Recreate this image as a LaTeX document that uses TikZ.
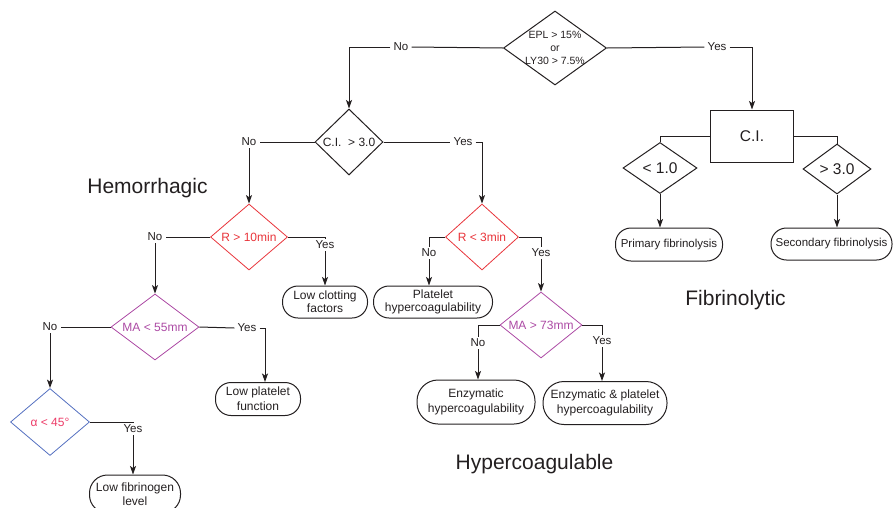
\documentclass[tikz,border=0pt]{standalone}
\usepackage{fontspec}
\setmainfont{Liberation Sans}
\usetikzlibrary{shapes.geometric,arrows.meta}

\definecolor{ink}{RGB}{35,31,32}
\definecolor{teggred}{RGB}{232,52,58}
\definecolor{teggpurple}{RGB}{172,74,164}
\definecolor{teggblue}{RGB}{84,112,192}
\definecolor{teggpink}{RGB}{236,60,104}

\tikzset{
	line/.style={draw=ink, line width=1pt},
	arr/.style={line, -{Stealth[length=8.5pt,width=6pt,inset=2pt]}},
	decision/.style={diamond, draw=ink, line width=1pt, inner sep=0pt},
	cond/.style={font=\fontsize{12}{13}\selectfont, text=ink, inner sep=0pt, align=center},
	answer/.style={font=\fontsize{11.5}{12}\selectfont, text=ink, inner xsep=3pt, inner ysep=2pt},
	outcome/.style={rectangle, draw=ink, line width=1pt, rounded corners=15.5pt,
		minimum height=32pt, inner xsep=0pt, align=center, text=ink,
		font=\fontsize{12}{12.7}\selectfont},
	heading/.style={font=\fontsize{21}{24}\selectfont, text=ink, anchor=base},
}

\begin{document}
\begin{tikzpicture}[x=1pt, y=-1pt]
	\useasboundingbox (0,0) rectangle (893,507);

	% first split
	\node[decision, minimum width=103pt, minimum height=74pt] (epl) at (555,48) {};
	\node[cond, font=\fontsize{10.5}{13}\selectfont] (epltxt) at (epl) {EPL > 15\%\\or\\LY30 > 7.5\%};
	\node[answer] (noA) at (401,47) {No};
	\node[answer] (yesA) at (717,47) {Yes};

	% hemorrhagic / hypercoagulable side
	\node[decision, minimum width=68pt, minimum height=66pt] (ci) at (349,142) {};
	\node[cond] (citxt) at (ci) {C.I.\ \ > 3.0};
	\node[answer] (noB) at (249,142) {No};
	\node[answer] (yesC) at (463,142) {Yes};

	\node[decision, draw=teggred, line width=0.8pt, minimum width=77pt, minimum height=66pt] (r10) at (249,237) {};
	\node[cond, text=teggred] (r10txt) at (r10) {R > 10min};
	\node[answer] (noD) at (155,237) {No};
	\node[answer] (yesD) at (325,245) {Yes};
	\node[outcome, minimum width=85pt] (lowclot) at (325,302) {Low clotting\\factors};

	\node[decision, draw=teggpurple, line width=0.8pt, minimum width=88pt, minimum height=66pt] (ma55) at (155,327) {};
	\node[cond, text=teggpurple] (ma55txt) at (ma55) {MA < 55mm};
	\node[answer] (noF) at (50,327) {No};
	\node[answer] (yesF) at (247,328) {Yes};
	\coordinate (cF) at (265,328);
	\node[outcome, minimum width=85pt, minimum height=33pt, font=\fontsize{12}{15}\selectfont] (lowplat) at (258,399) {Low platelet\\function};

	\node[decision, draw=teggblue, line width=0.8pt, minimum width=79pt, minimum height=67pt] (alpha) at (50,422) {};
	\node[cond, text=teggpink] (alphatxt) at (alpha) {α < 45°};
	\node[answer] (yesG) at (133,429) {Yes};
	\node[outcome, minimum width=91pt, minimum height=38pt, rounded corners=18pt, font=\fontsize{12}{13.5}\selectfont] (lowfib) at (135,494) {Low fibrinogen\\level};

	\node[decision, draw=teggred, line width=0.8pt, minimum width=73pt, minimum height=66pt] (r3) at (482,237) {};
	\node[cond, text=teggred] (r3txt) at (r3) {R < 3min};
	\node[answer] (noE) at (429,253) {No};
	\node[answer] (yesE) at (541,253) {Yes};
	\node[outcome, minimum width=119pt] (plat) at (433,302) {Platelet\\hypercoagulability};

	\node[decision, draw=teggpurple, line width=0.8pt, minimum width=82pt, minimum height=66pt] (ma73) at (541,325) {};
	\node[cond, text=teggpurple] (ma73txt) at (ma73) {MA > 73mm};
	\node[answer] (noH) at (478,343) {No};
	\node[answer] (yesH) at (602,341) {Yes};
	\node[outcome, minimum width=118pt, minimum height=44pt, rounded corners=21pt, font=\fontsize{12}{15}\selectfont] (enzy) at (476,402) {Enzymatic\\hypercoagulability};
	\node[outcome, minimum width=124pt, minimum height=43pt, rounded corners=21pt, font=\fontsize{12}{14.5}\selectfont] (enzplat) at (605,403) {Enzymatic \& platelet\\hypercoagulability};

	% fibrinolytic side
	\node[rectangle, draw=ink, line width=1pt, minimum width=83pt, minimum height=52pt, font=\fontsize{15.5}{17}\selectfont, text=ink] (cibox) at (752,136) {C.I.};
	\node[decision, minimum width=74pt, minimum height=51pt] (lt1) at (660,168) {};
	\node[cond, font=\fontsize{15.5}{17}\selectfont] (lt1txt) at (lt1) {< 1.0};
	\node[decision, minimum width=68pt, minimum height=50pt] (gt3) at (837,169) {};
	\node[cond, font=\fontsize{15.5}{17}\selectfont] (gt3txt) at (gt3) {> 3.0};
	\node[outcome, minimum width=107pt, minimum height=33pt, font=\fontsize{11.5}{12}\selectfont] (primary) at (669,244.5) {Primary fibrinolysis};
	\node[outcome, minimum width=121pt, font=\fontsize{11.5}{12}\selectfont] (secondary) at (831.5,244) {Secondary fibrinolysis};

	% group titles
	\node[heading] (hemo) at (147.5,193) {Hemorrhagic};
	\node[heading] (fibr) at (735.5,305) {Fibrinolytic};
	\node[heading] (hyper) at (534.5,469) {Hypercoagulable};

	% connectors
	\draw[line] (epl.west) -- (noA.east);
	\draw[arr] (noA.west) -| (ci.north);
	\draw[line] (epl.east) -- (yesA.west);
	\draw[arr] (yesA.east) -| (cibox.north);

	\draw[line] (ci.west) -- (noB.east);
	\draw[arr] (noB.south) -- (r10.north);
	\draw[line] (ci.east) -- (yesC.west);
	\draw[arr] (yesC.east) -| (r3.north);

	\draw[line] (r10.west) -- (noD.east);
	\draw[arr] (noD.south) -- (ma55.north);
	\draw[line] (r10.east) -| (yesD.north);
	\draw[arr] (yesD.south) -- (lowclot.north);

	\draw[line] (ma55.west) -- (noF.east);
	\draw[arr] (noF.south) -- (alpha.north);
	\draw[line] (ma55.east) -- (yesF.west);
	\draw[line] (yesF.east) -- (cF);
	\draw[arr] (cF) -- (cF |- lowplat.north);

	\draw[line] (alpha.east) -| (yesG.north);
	\draw[arr] (yesG.south) -- (yesG.south |- lowfib.north);

	\draw[line] (r3.west) -| (noE.north);
	\draw[arr] (noE.south) -- (noE.south |- plat.north);
	\draw[line] (r3.east) -| (yesE.north);
	\draw[arr] (yesE.south) -- (ma73.north);

	\draw[line] (ma73.west) -| (noH.north);
	\draw[arr] (noH.south) -- (noH.south |- enzy.north);
	\draw[line] (ma73.east) -| (yesH.north);
	\draw[arr] (yesH.south) -- (yesH.south |- enzplat.north);

	\draw[line] (cibox.west) -| (lt1.north);
	\draw[arr] (lt1.south) -- (lt1.south |- primary.north);
	\draw[line] (cibox.east) -| (gt3.north);
	\draw[arr] (gt3.south) -- (gt3.south |- secondary.north);
\end{tikzpicture}
\end{document}
